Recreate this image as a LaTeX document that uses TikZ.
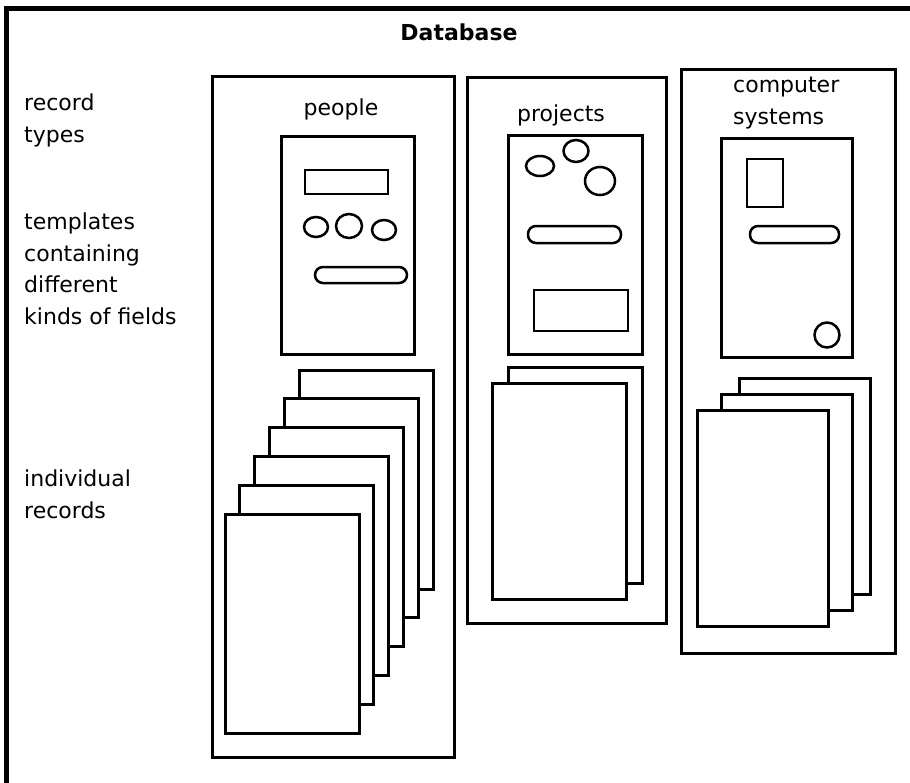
\documentclass[tikz,border=0pt]{standalone}
\usepackage{fontspec}
\setmainfont{DejaVu Sans}
\newcommand{\diagfont}{\fontsize{22}{31.5}\selectfont}
\tikzstyle{outerframe} = [line width=5pt, line join=miter]
\tikzstyle{panel} = [draw=black, line width=3pt]
\tikzstyle{template} = [draw=black, line width=3pt, fill=white]
\tikzstyle{sheet} = [draw=black, line width=3pt, fill=white]
\tikzstyle{field} = [draw=black, line width=2.5pt]
\tikzstyle{heading} = [inner sep=0pt, font=\diagfont]
\tikzstyle{sidenote} = [heading, anchor=north west, align=left]

\begin{document}
\begin{tikzpicture}[x=1pt, y=-1pt]
\useasboundingbox (0,0) rectangle (910,782);

% Frame and title
\draw [outerframe] (6,790) -- (6,8.5) -- (920,8.5);
\node (title) [heading, font=\diagfont\bfseries, anchor=base] at (459,40) {Database};

% Side notes
\node (types) [sidenote] at (24,94) {record\\types};
\node (templates) [sidenote] at (24,213) {templates\\containing\\different\\kinds of fields};
\node (individual) [sidenote] at (24,470) {individual\\records};

% Record types
\draw [panel] (212,76) rectangle (454,757);
\draw [panel] (467,77) rectangle (666,623);
\draw [panel] (681,69) rectangle (895,653);
\node (people) [heading, anchor=base] at (341,115) {people};
\node (projects) [heading, anchor=base] at (561,121) {projects};
\node (systems) [sidenote] at (733,77) {computer\\systems};

% Templates
\draw [template] (281,136) rectangle (414,354);
\draw [template] (508,135) rectangle (642,354);
\draw [template] (721,138) rectangle (852,357);

% Fields
\draw [field] (305,170) rectangle (388,194);
\draw [field] (316,227) ellipse [x radius=12, y radius=10];
\draw [field] (349,226) ellipse [x radius=13, y radius=12];
\draw [field] (384,230) ellipse [x radius=12, y radius=10];
\draw [field, rounded corners=8pt] (315,267) rectangle (407,283);

\draw [field] (540,166) ellipse [x radius=14, y radius=10];
\draw [field] (576,151) ellipse [x radius=12.5, y radius=11];
\draw [field] (600,181) ellipse [x radius=15, y radius=14];
\draw [field, rounded corners=8pt] (528,226) rectangle (621,243);
\draw [field] (534,290) rectangle (628,331);

\draw [field] (747,159) rectangle (783,207);
\draw [field, rounded corners=8pt] (750,226) rectangle (839,243);
\draw [field] (827,335) circle [radius=12.5];

% Records
\foreach \i in {5,...,0}
  \draw [sheet] ({225+14.8*\i},{514-28.8*\i}) rectangle +(134,219);
\foreach \x/\y in {508/367, 492/383}
  \draw [sheet] (\x,\y) rectangle +(134,216);
\foreach \x/\y in {739/378, 721/394, 697/410}
  \draw [sheet] (\x,\y) rectangle +(131,216);

\end{tikzpicture}
\end{document}
